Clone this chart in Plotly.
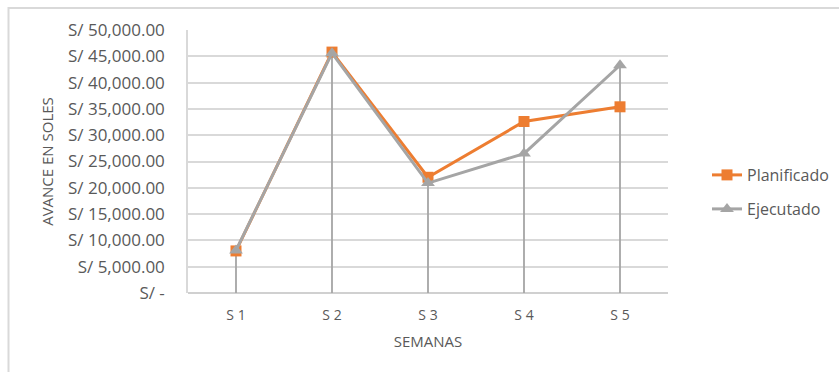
import plotly.graph_objects as go

semanas = ["S 1", "S 2", "S 3", "S 4", "S 5"]
planificado = [8000, 45800, 22000, 32600, 35400]
ejecutado = [8100, 45600, 20900, 26500, 43300]
y_tickvals = [0, 5000, 10000, 15000, 20000, 25000, 30000, 35000, 40000, 45000, 50000]
y_ticktext = ["S/ -", "S/ 5,000.00", "S/ 10,000.00", "S/ 15,000.00", "S/ 20,000.00",
              "S/ 25,000.00", "S/ 30,000.00", "S/ 35,000.00", "S/ 40,000.00",
              "S/ 45,000.00", "S/ 50,000.00"]

ORANGE = "#ED7D31"
GRAY = "#A5A5A5"
TXT = "#595959"
FONT = "Open Sans"

W, H = 839, 372
L, R, T, B = 188, 171, 30, 79
pw = W - L - R
ph = H - T - B

fig = go.Figure()

# drop lines (from the highest point of each category down to the axis)
dx, dy = [], []
for i, s in enumerate(semanas):
    top = max(planificado[i], ejecutado[i])
    dx += [s, s, None]
    dy += [0, top, None]
fig.add_trace(go.Scatter(x=dx, y=dy, mode="lines", line=dict(color=GRAY, width=1.8),
                         showlegend=False, hoverinfo="skip"))

fig.add_trace(go.Scatter(x=semanas, y=planificado, name="Planificado", mode="lines+markers",
                         line=dict(color=ORANGE, width=3),
                         marker=dict(symbol="square", size=11, color=ORANGE),
                         legend="legend"))
fig.add_trace(go.Scatter(x=semanas, y=ejecutado, name="Ejecutado", mode="lines+markers",
                         line=dict(color=GRAY, width=3),
                         marker=dict(symbol="triangle-up", size=12, color=GRAY),
                         legend="legend2"))

def px_x(p):
    return (p - L) / pw

def px_y(p):
    return (H - B - p) / ph

fig.update_layout(
    width=W, height=H,
    margin=dict(l=L, r=R, t=T, b=B, autoexpand=False),
    paper_bgcolor="white", plot_bgcolor="white",
    font=dict(family=FONT, color=TXT, size=14),
    xaxis=dict(type="category", range=[-0.5, 4.5], showgrid=False,
               showline=False, zeroline=False, ticks="",
               ticklabelstandoff=12, automargin=False,
               tickfont=dict(size=14, color=TXT),
               title=dict(text="SEMANAS", font=dict(size=15, color=TXT), standoff=13)),
    yaxis=dict(range=[0, 50000], tickvals=y_tickvals, ticktext=y_ticktext,
               showgrid=True, gridcolor="#D9D9D9", gridwidth=1.5,
               zeroline=True, zerolinecolor="#D0D0D0", zerolinewidth=2,
               showline=True, linecolor="#D9D9D9", linewidth=1.5,
               ticks="", ticklen=0, ticklabelstandoff=18, automargin=False,
               tickfont=dict(size=17, color=TXT),
               title=dict(text="AVANCE EN SOLES", font=dict(size=15, color=TXT), standoff=11)),
    legend=dict(x=px_x(707), y=px_y(175), xanchor="left", yanchor="middle",
                font=dict(size=16, color=TXT), bgcolor="rgba(0,0,0,0)"),
    legend2=dict(x=px_x(707), y=px_y(209), xanchor="left", yanchor="middle",
                 font=dict(size=16, color=TXT), bgcolor="rgba(0,0,0,0)"),
    shapes=[
        dict(type="line", xref="paper", yref="paper", x0=px_x(8), x1=px_x(839),
             y0=px_y(8), y1=px_y(8), line=dict(color="#D9D9D9", width=2)),
        dict(type="line", xref="paper", yref="paper", x0=px_x(8.5), x1=px_x(8.5),
             y0=px_y(7), y1=px_y(372), line=dict(color="#D9D9D9", width=2)),
    ],
)

fig.write_html("out.html")
